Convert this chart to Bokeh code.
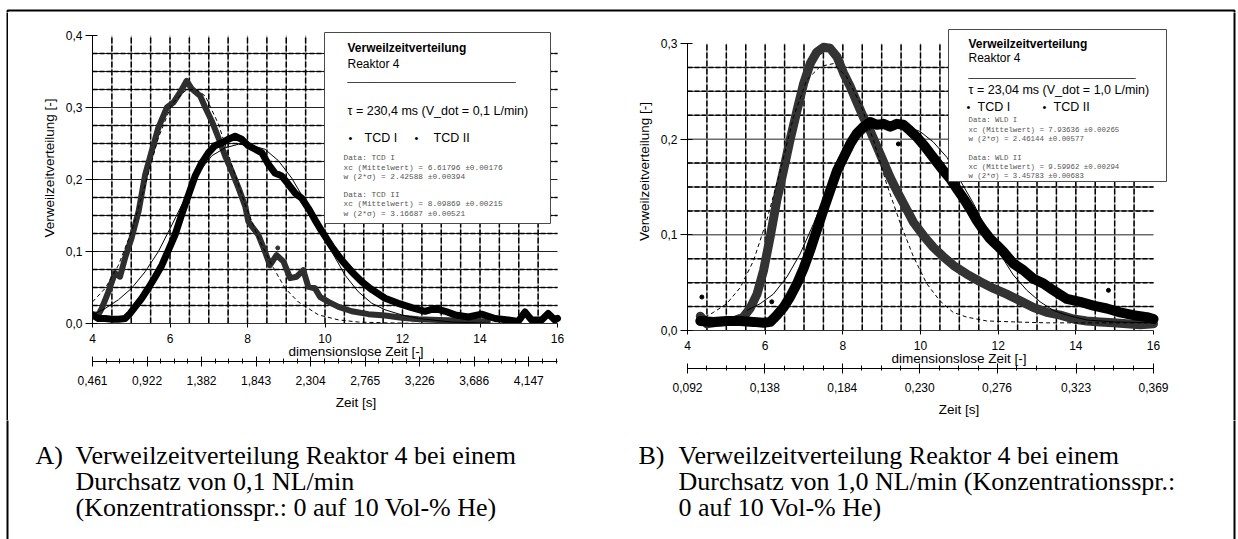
from bokeh.embed import file_html
from bokeh.layouts import column, row
from bokeh.models import (BoxAnnotation, CustomJSTickFormatter, FixedTicker, Label,
                          LinearAxis, Range1d)
from bokeh.plotting import figure
from bokeh.resources import INLINE

# ------------------------------------------------------------------ data
theta_ticks = [4, 6, 8, 10, 12, 14, 16]

a_y_ticks = [0.0, 0.1, 0.2, 0.3, 0.4]
a_time_ticks = [0.461, 0.922, 1.382, 1.843, 2.304, 2.765, 3.226, 3.686, 4.147]

b_y_ticks = [0.0, 0.1, 0.2, 0.3]
b_time_ticks = [0.092, 0.138, 0.184, 0.230, 0.276, 0.323, 0.369]

# Reaktor 4, 0,1 L/min -- measured signals
a_tcd1_x = [4.0, 4.15, 4.24, 4.41, 4.58, 4.71, 4.84, 5.01, 5.19, 5.36, 5.53, 5.70, 5.92,
            6.09, 6.26, 6.43, 6.56, 6.78, 6.91, 7.08, 7.25, 7.42, 7.59, 7.77, 7.94, 8.02,
            8.11, 8.28, 8.45, 8.58, 8.75, 8.93, 9.10, 9.27, 9.44, 9.57, 9.74, 9.87, 10.09,
            10.35, 10.69, 11.12, 11.55, 11.98, 12.41, 12.93, 13.44, 13.96, 14.2]
a_tcd1_y = [0.013, 0.012, 0.021, 0.044, 0.070, 0.065, 0.091, 0.119, 0.156, 0.207, 0.240,
            0.272, 0.300, 0.307, 0.321, 0.337, 0.326, 0.316, 0.300, 0.281, 0.258, 0.233,
            0.212, 0.188, 0.163, 0.142, 0.135, 0.123, 0.100, 0.081, 0.095, 0.086, 0.063,
            0.065, 0.074, 0.051, 0.049, 0.037, 0.030, 0.023, 0.017, 0.013, 0.011, 0.008,
            0.006, 0.005, 0.004, 0.003, 0.003]

a_tcd2_x = [4.0, 4.15, 4.33, 4.50, 4.67, 4.84, 4.97, 5.10, 5.27, 5.44, 5.62, 5.79, 5.96,
            6.13, 6.30, 6.48, 6.65, 6.82, 6.99, 7.16, 7.34, 7.51, 7.68, 7.85, 8.02, 8.20,
            8.37, 8.54, 8.71, 8.88, 9.06, 9.23, 9.40, 9.57, 9.74, 9.92, 10.17, 10.43,
            10.69, 10.95, 11.21, 11.55, 11.89, 12.24, 12.58, 12.84, 13.10, 13.36, 13.70,
            14.04, 14.39, 14.73, 14.99, 15.16, 15.33, 15.59, 15.76, 15.93, 16.0]
a_tcd2_y = [0.012, 0.007, 0.007, 0.006, 0.006, 0.007, 0.014, 0.023, 0.035, 0.049, 0.065,
            0.081, 0.102, 0.123, 0.151, 0.179, 0.205, 0.223, 0.237, 0.247, 0.251, 0.256,
            0.260, 0.256, 0.247, 0.242, 0.237, 0.221, 0.209, 0.205, 0.193, 0.181, 0.174,
            0.160, 0.144, 0.128, 0.107, 0.088, 0.072, 0.058, 0.047, 0.035, 0.028, 0.022,
            0.017, 0.021, 0.017, 0.012, 0.009, 0.013, 0.007, 0.005, 0.003, 0.016, 0.005,
            0.005, 0.014, 0.005, 0.007]

a_stray_x = [8.78]
a_stray_y = [0.105]

# Reaktor 4, 0,1 L/min -- fitted curves
a_fit1_x = [4.0, 4.33, 4.67, 5.01, 5.36, 5.70, 6.05, 6.39, 6.65, 6.91, 7.25, 7.59, 7.94,
            8.28, 8.63, 8.97, 9.31, 9.83, 10.35, 10.86, 11.5, 12.5, 14.0, 16.0]
a_fit1_y = [0.030, 0.049, 0.081, 0.128, 0.193, 0.258, 0.305, 0.323, 0.326, 0.316, 0.277,
            0.221, 0.165, 0.119, 0.081, 0.049, 0.030, 0.012, 0.005, 0.002, 0.001, 0.0,
            0.0, 0.0]
a_fit2_x = [4.0, 4.33, 4.67, 5.01, 5.36, 5.70, 6.05, 6.39, 6.73, 7.08, 7.42, 7.77, 8.11,
            8.45, 8.80, 9.14, 9.49, 9.83, 10.17, 10.52, 10.86, 11.21, 11.55, 11.98, 12.41,
            13.27, 14.5, 16.0]
a_fit2_y = [0.012, 0.021, 0.033, 0.049, 0.072, 0.100, 0.137, 0.174, 0.209, 0.233, 0.244,
            0.249, 0.247, 0.242, 0.226, 0.202, 0.170, 0.133, 0.100, 0.067, 0.044, 0.028,
            0.019, 0.012, 0.007, 0.002, 0.0, 0.0]

# Reaktor 4, 1,0 L/min -- measured signals
b_tcd1_x = [4.33, 4.50, 4.84, 5.18, 5.44, 5.61, 5.79, 5.96, 6.13, 6.30, 6.47, 6.64, 6.82,
            6.99, 7.16, 7.33, 7.50, 7.67, 7.85, 8.02, 8.19, 8.36, 8.53, 8.70, 8.88, 9.05,
            9.22, 9.39, 9.56, 9.82, 10.08, 10.33, 10.59, 10.85, 11.19, 11.54, 11.88, 12.22,
            12.57, 12.91, 13.25, 13.60, 13.94, 14.28, 14.63, 14.97, 15.31, 15.66, 16.0]
b_tcd1_y = [0.015, 0.007, 0.009, 0.010, 0.014, 0.023, 0.038, 0.063, 0.098, 0.136, 0.167,
            0.199, 0.230, 0.258, 0.279, 0.291, 0.296, 0.295, 0.286, 0.269, 0.255, 0.239,
            0.223, 0.209, 0.192, 0.176, 0.160, 0.146, 0.133, 0.113, 0.099, 0.087, 0.077,
            0.068, 0.059, 0.051, 0.044, 0.038, 0.031, 0.024, 0.019, 0.016, 0.012, 0.010,
            0.009, 0.008, 0.007, 0.006, 0.007]

b_tcd2_x = [4.33, 4.67, 5.01, 5.36, 5.70, 5.96, 6.13, 6.30, 6.47, 6.64, 6.82, 6.99, 7.16,
            7.33, 7.50, 7.67, 7.85, 8.02, 8.19, 8.36, 8.53, 8.70, 8.88, 9.05, 9.22, 9.39,
            9.56, 9.73, 9.91, 10.08, 10.25, 10.42, 10.59, 10.76, 10.94, 11.11, 11.28, 11.45,
            11.62, 11.79, 11.97, 12.14, 12.39, 12.65, 12.91, 13.17, 13.42, 13.77, 14.11,
            14.45, 14.80, 15.14, 15.48, 15.83, 16.0]
b_tcd2_y = [0.010, 0.009, 0.010, 0.010, 0.009, 0.008, 0.009, 0.016, 0.024, 0.035, 0.049,
            0.065, 0.084, 0.105, 0.126, 0.146, 0.167, 0.181, 0.195, 0.206, 0.213, 0.218,
            0.215, 0.216, 0.213, 0.216, 0.215, 0.209, 0.202, 0.194, 0.185, 0.176, 0.167,
            0.159, 0.148, 0.138, 0.127, 0.115, 0.105, 0.096, 0.089, 0.082, 0.070, 0.063,
            0.054, 0.049, 0.042, 0.033, 0.030, 0.026, 0.023, 0.019, 0.016, 0.014, 0.012]

b_stray_x = [4.37, 6.17, 9.43, 12.55, 14.84]
b_stray_y = [0.035, 0.030, 0.195, 0.066, 0.042]

# Reaktor 4, 1,0 L/min -- fitted curves
b_fit1_x = [4.45, 4.67, 5.01, 5.36, 5.70, 6.04, 6.39, 6.73, 7.07, 7.42, 7.76, 8.10, 8.45,
            8.79, 9.13, 9.48, 9.82, 10.16, 10.50, 10.84, 11.19, 11.70, 12.39, 13.25, 14.11,
            15.0, 16.0]
b_fit1_y = [0.014, 0.019, 0.028, 0.045, 0.073, 0.115, 0.167, 0.223, 0.262, 0.276, 0.279,
            0.265, 0.237, 0.199, 0.153, 0.112, 0.077, 0.049, 0.031, 0.019, 0.014, 0.010,
            0.009, 0.008, 0.008, 0.008, 0.008]
b_fit2_x = [5.53, 5.87, 6.21, 6.56, 6.90, 7.25, 7.59, 7.93, 8.27, 8.62, 8.96, 9.30, 9.65,
            9.99, 10.33, 10.68, 11.36, 11.71, 12.05, 12.39, 12.74, 13.08, 13.42, 13.77,
            14.28, 14.97, 16.0]
b_fit2_y = [0.021, 0.028, 0.038, 0.056, 0.080, 0.112, 0.146, 0.174, 0.195, 0.209, 0.215,
            0.216, 0.213, 0.208, 0.197, 0.181, 0.133, 0.105, 0.080, 0.058, 0.042, 0.030,
            0.021, 0.016, 0.011, 0.009, 0.008]

# ------------------------------------------------------------------ styling
SANS = "Liberation Sans"
MONO = "Liberation Mono"
SERIF = "Liberation Serif"

PAGE_W, TOP_H, ROW_H, CAP_H, SIDE_W = 1238, 12, 408, 119, 8
PANEL_W = (PAGE_W - 2 * SIDE_W) // 2          # 611


def canvas_text(p, x, y, text, font=SANS, size="12px", style="normal", color="black"):
    p.add_layout(Label(x=x, y=y, x_units="canvas", y_units="canvas", text=text,
                       text_font=font, text_font_size=size, text_font_style=style,
                       text_color=color, text_baseline="middle", text_align="left"))


def canvas_box(p, left, right, top, bottom, fill_color=None, line_color="black",
               line_width=1):
    p.add_layout(BoxAnnotation(left=left, right=right, top=top, bottom=bottom,
                               left_units="canvas", right_units="canvas",
                               top_units="canvas", bottom_units="canvas",
                               fill_color=fill_color,
                               fill_alpha=1.0 if fill_color else 0.0,
                               line_color=line_color, line_alpha=1.0,
                               line_width=line_width))


def blank(width, height):
    """A plain drawing surface whose frame fills the whole canvas."""
    p = figure(width=width, height=height, x_range=Range1d(0, 1), y_range=Range1d(0, 1),
               min_border=0, x_axis_location=None, y_axis_location=None,
               output_backend="svg", toolbar_location=None, outline_line_color=None,
               background_fill_color="white", border_fill_color="white", frame_align=False)
    p.grid.visible = False
    return p


def make_panel(ymax, y_ticks, y_px, t_lo, t_hi, time_ticks, time_minor,
               frame_left, frame_bottom, x_px):
    """Chart whose frame reaches the top and right edges of its canvas.

    y_px: pixels from y=0 to y=ymax; x_px: pixels from x=4 to x=16."""
    frame_w = PANEL_W - frame_left
    frame_h = frame_bottom
    x_end = 4 + frame_w * 12.0 / x_px
    y_end = ymax * frame_h / y_px
    t_end = t_lo + (x_end - 4) * (t_hi - t_lo) / 12.0

    p = figure(width=PANEL_W, height=ROW_H,
               min_border_left=frame_left, min_border_right=0, min_border_top=0,
               min_border_bottom=ROW_H - frame_bottom, frame_align=False,
               x_range=Range1d(4, x_end), y_range=Range1d(0, y_end),
               output_backend="svg", toolbar_location=None,
               background_fill_color="white", border_fill_color="white",
               outline_line_color=None)
    p.grid.visible = False

    # grid: horizontal every 0.025, vertical every 0.5
    n_h = int(round(ymax / 0.025))
    h_all = [0.025 * k for k in range(1, n_h)]
    h_dash = [0.025 * k for k in range(1, n_h) if k % 4 != 0]
    v_all = [4 + 0.5 * k for k in range(1, 24)]
    p.segment(x0=[4] * len(h_all), y0=h_all, x1=[16] * len(h_all), y1=h_all,
              line_color="#222222", line_width=1)
    p.segment(x0=[4] * len(h_dash), y0=h_dash, x1=[16] * len(h_dash), y1=h_dash,
              line_color="black", line_width=1.5, line_dash="5 2")
    p.segment(x0=v_all, y0=[0] * len(v_all), x1=v_all, y1=[ymax] * len(v_all),
              line_color="#777777", line_width=0.8)
    p.segment(x0=v_all, y0=[0] * len(v_all), x1=v_all, y1=[ymax] * len(v_all),
              line_color="black", line_width=1.5, line_dash="6 2")

    # y axis
    ya = p.yaxis[0]
    ya.bounds = (0, ymax)
    ya.ticker = FixedTicker(ticks=y_ticks)
    ya.formatter = CustomJSTickFormatter(code="return tick.toFixed(1).replace('.', ',')")
    ya.major_tick_in = 5
    ya.major_tick_out = 7
    ya.minor_tick_line_color = None
    ya.axis_line_color = "black"
    ya.major_label_standoff = 3
    ya.axis_label = "Verweilzeitverteilung [-]"
    ya.axis_label_standoff = 6

    # dimensionless time axis
    xa = p.xaxis[0]
    xa.bounds = (4, 16)
    xa.ticker = FixedTicker(ticks=theta_ticks)
    xa.major_tick_in = 0
    xa.major_tick_out = 4
    xa.minor_tick_line_color = None
    xa.axis_line_color = "#333333"
    xa.major_label_standoff = 6
    xa.axis_label = "dimensionslose Zeit [-]"
    xa.axis_label_standoff = -2

    # empty spacer between the two time axes
    gap = LinearAxis(ticker=FixedTicker(ticks=[]), major_tick_out=5, major_tick_in=0,
                     major_tick_line_color=None, minor_tick_line_color=None,
                     axis_line_color=None, major_label_standoff=0)
    p.add_layout(gap, "below")

    # real time axis
    p.extra_x_ranges = {"zeit": Range1d(t_lo, t_end)}
    ta = LinearAxis(x_range_name="zeit", bounds=(t_lo, t_hi),
                    ticker=FixedTicker(ticks=time_ticks, minor_ticks=time_minor),
                    formatter=CustomJSTickFormatter(
                        code="return tick.toFixed(3).replace('.', ',')"),
                    axis_label="Zeit [s]")
    ta.major_tick_in = 5
    ta.major_tick_out = 5
    ta.minor_tick_in = 3
    ta.minor_tick_out = 2
    ta.major_label_standoff = 9
    ta.axis_label_standoff = 7
    p.add_layout(ta, "below")

    for ax in (ya, xa, ta):
        ax.major_label_text_font = SANS
        ax.major_label_text_font_size = "12px"
        ax.major_label_text_color = "black"
        ax.axis_label_text_font = SANS
        ax.axis_label_text_font_size = "13.5px"
        ax.axis_label_text_font_style = "normal"
        ax.axis_label_text_color = "black"
        ax.major_tick_line_color = "black"
    ta.minor_tick_line_color = "black"
    return p


# ------------------------------------------------------------------ panel A
a_minor = [0.461 + 0.11525 * k for k in range(1, 35) if k % 4 != 0]
pa = make_panel(0.4, a_y_ticks, 288, 0.461, 4.39, a_time_ticks, a_minor,
                frame_left=84, frame_bottom=311, x_px=465)

pa.line(a_tcd1_x, a_tcd1_y, line_width=6, line_color="#2e2e2e", line_join="round",
        line_cap="round")
pa.line(a_tcd2_x, a_tcd2_y, line_width=7, line_color="black", line_join="round",
        line_cap="round")
pa.scatter(a_stray_x, a_stray_y, size=4, color="#333333")
pa.line(a_fit1_x, a_fit1_y, line_width=1, line_color="black", line_dash="4 3")
pa.line(a_fit2_x, a_fit2_y, line_width=1, line_color="black")

# legend block (canvas pixels of this panel)
canvas_box(pa, 316, 542, 20, 211, fill_color="white", line_color="#4a4a4a")
canvas_text(pa, 339, 35, "Verweilzeitverteilung", style="bold")
canvas_text(pa, 339, 51, "Reaktor 4")
canvas_box(pa, 339, 507, 70, 70, line_color="#444444")
canvas_text(pa, 339, 98, "\u03c4 = 230,4 ms (V_dot = 0,1 L/min)", size="12.5px")
canvas_text(pa, 340, 125, "\u2022", size="11px")
canvas_text(pa, 356, 125, "TCD I", size="12.5px")
canvas_text(pa, 406, 125, "\u2022", size="11px")
canvas_text(pa, 425, 125, "TCD II", size="12.5px")
for yy, txt in [(145, "Data: TCD I"),
                (155, "xc (Mittelwert) = 6.61796 \u00b10.00176"),
                (164, "w (2*\u03c3) = 2.42588 \u00b10.00394"),
                (182, "Data: TCD II"),
                (191, "xc (Mittelwert) = 8.09869 \u00b10.00215"),
                (201, "w (2*\u03c3) = 3.16687 \u00b10.00521")]:
    canvas_text(pa, 335, yy, txt, font=MONO, size="7.8px", color="#555555")

# ------------------------------------------------------------------ panel B
b_minor = [0.092 + 0.01152 * k for k in range(1, 24) if k % 4 != 0]
pb = make_panel(0.3, b_y_ticks, 287, 0.092, 0.369, b_time_ticks, b_minor,
                frame_left=68, frame_bottom=318, x_px=466)

pb.line(b_tcd1_x, b_tcd1_y, line_width=9, line_color="#333333", line_join="round",
        line_cap="round")
pb.line(b_tcd2_x, b_tcd2_y, line_width=10, line_color="black", line_join="round",
        line_cap="round")
pb.scatter(b_stray_x, b_stray_y, size=4, color="black")
pb.line(b_fit1_x, b_fit1_y, line_width=1, line_color="black", line_dash="4 3")
pb.line(b_fit2_x, b_fit2_y, line_width=1, line_color="black")

canvas_box(pb, 329, 547, 17, 169, fill_color="white", line_color="#4a4a4a")
canvas_text(pb, 349, 31, "Verweilzeitverteilung", style="bold")
canvas_text(pb, 349, 45, "Reaktor 4")
canvas_box(pb, 349, 516, 66, 66, line_color="#444444")
canvas_text(pb, 349, 77, "\u03c4 = 23,04 ms (V_dot = 1,0 L/min)", size="12.5px")
canvas_text(pb, 347, 94, "\u2022", size="11px")
canvas_text(pb, 358, 94, "TCD I", size="12.5px")
canvas_text(pb, 423, 94, "\u2022", size="11px")
canvas_text(pb, 434, 94, "TCD II", size="12.5px")
for yy, txt in [(107, "Data: WLD I"),
                (117, "xc (Mittelwert) = 7.93636 \u00b10.00265"),
                (126, "w (2*\u03c3) = 2.46144 \u00b10.00577"),
                (145, "Data: WLD II"),
                (154, "xc (Mittelwert) = 9.59962 \u00b10.00294"),
                (163, "w (2*\u03c3) = 3.45783 \u00b10.00683")]:
    canvas_text(pb, 349, yy, txt, font=MONO, size="7.4px", color="#555555")

# ------------------------------------------------------------------ page frame
top = blank(PAGE_W, TOP_H)
canvas_box(top, 7, 1234, 10, 500, line_width=2)
left_edge = blank(SIDE_W, ROW_H)
canvas_box(left_edge, 7, 500, -50, 1000, line_width=2)
right_edge = blank(SIDE_W, ROW_H)
canvas_box(right_edge, -500, 4, -50, 1000, line_width=2)

# ------------------------------------------------------------------ captions
cap = blank(PAGE_W, CAP_H)
canvas_box(cap, 7, 1234, -50, 500, line_width=2)
CAP_FONT = "26px"
canvas_text(cap, 35, 35, "A)", font=SERIF, size=CAP_FONT)
canvas_text(cap, 75, 35, "Verweilzeitverteilung Reaktor 4 bei einem", font=SERIF,
            size=CAP_FONT)
canvas_text(cap, 75, 61, "Durchsatz von 0,1 NL/min", font=SERIF, size=CAP_FONT)
canvas_text(cap, 75, 87, "(Konzentrationsspr.: 0 auf 10 Vol-% He)", font=SERIF,
            size=CAP_FONT)
canvas_text(cap, 638, 35, "B)", font=SERIF, size=CAP_FONT)
canvas_text(cap, 678, 35, "Verweilzeitverteilung Reaktor 4 bei einem", font=SERIF,
            size=CAP_FONT)
canvas_text(cap, 678, 61, "Durchsatz von 1,0 NL/min (Konzentrationsspr.:", font=SERIF,
            size=CAP_FONT)
canvas_text(cap, 678, 87, "0 auf 10 Vol-% He)", font=SERIF, size=CAP_FONT)

layout = column(top, row(left_edge, pa, pb, right_edge, spacing=0), cap, spacing=0)
open("out.html", "w").write(file_html(layout, INLINE))
